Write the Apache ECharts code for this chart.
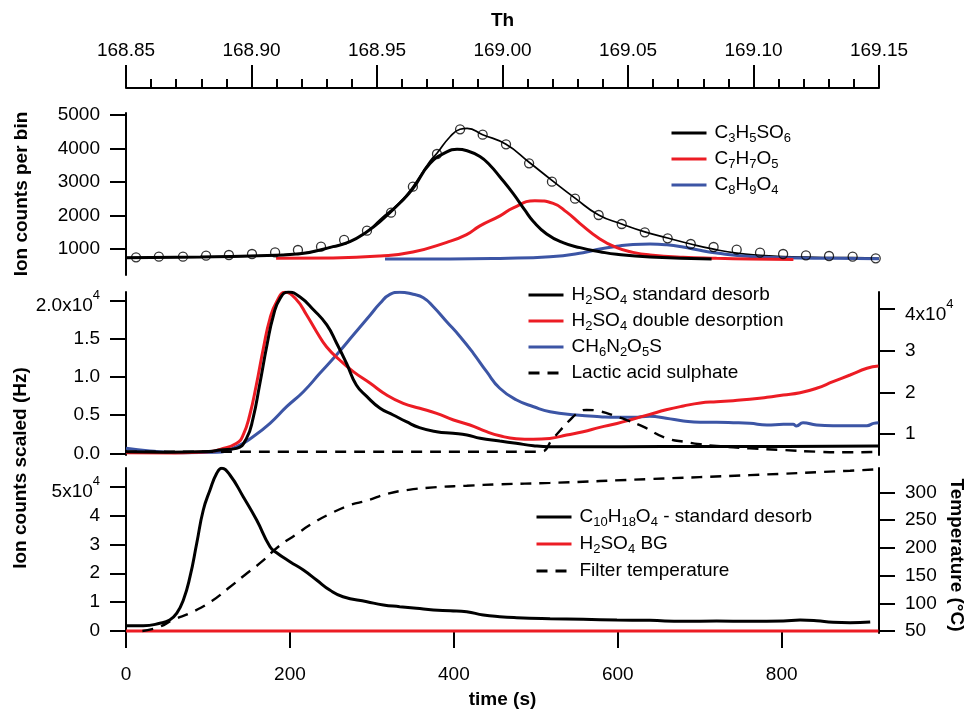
<!DOCTYPE html>
<html>
<head>
<meta charset="utf-8">
<script src="https://cdn.jsdelivr.net/npm/echarts@6/dist/echarts.min.js"></script>
<style>html,body{margin:0;padding:0;background:#fff}#c{width:966px;height:710px}</style>
</head>
<body>
<div id="c"></div>
<script>
const FONT = '"Liberation Sans", Arial, Helvetica, sans-serif';
const RED = '#ec1c24';
const BLUE = '#3c55a5';

// ---------- top panel (mass spectrum, Th) ----------
const fitTh = [168.8500, 168.8795, 168.8994, 168.9193, 168.9325, 168.9392, 168.9460, 168.9512, 168.9592, 168.9643, 168.9711, 168.9739, 168.9791, 168.9831, 168.9859, 168.9921, 169.0014, 169.0106, 169.0197, 169.0289, 169.0383, 169.0475, 169.0567, 169.0658, 169.0750, 169.0841, 169.0933, 169.1026, 169.1118, 169.1209, 169.1301, 169.1395, 169.1500];
const fitCounts = [740, 760, 790, 860, 1070, 1218, 1516, 1880, 2400, 2860, 3620, 3856, 4352, 4575, 4600, 4413, 4125, 3590, 3050, 2520, 2015, 1746, 1510, 1330, 1149, 995, 875, 811, 775, 755, 745, 740, 722];

const obsTh = [168.8540, 168.8631, 168.8727, 168.8819, 168.8910, 168.9002, 168.9094, 168.9185, 168.9277, 168.9369, 168.9460, 168.9556, 168.9643, 168.9739, 168.9831, 168.9921, 169.0014, 169.0106, 169.0197, 169.0289, 169.0383, 169.0475, 169.0567, 169.0658, 169.0750, 169.0841, 169.0933, 169.1026, 169.1118, 169.1209, 169.1301, 169.1395, 169.1487];
const obsCounts = [752, 770, 770, 800, 821, 851, 900, 970, 1070, 1270, 1547, 2085, 2860, 3836, 4573, 4413, 4125, 3557, 3010, 2502, 2015, 1746, 1498, 1318, 1149, 1060, 980, 890, 851, 811, 791, 770, 722];

const c3h5so6Th = [168.8500, 168.8795, 168.8994, 168.9193, 168.9325, 168.9392, 168.9460, 168.9512, 168.9592, 168.9643, 168.9711, 168.9778, 168.9819, 168.9859, 168.9910, 168.9950, 168.9990, 169.0042, 169.0090, 169.0122, 169.0176, 169.0241, 169.0309, 169.0388, 169.0455, 169.0588, 169.0833];
const c3h5so6Counts = [740, 760, 790, 860, 1070, 1218, 1516, 1815, 2380, 2800, 3550, 3900, 3976, 3934, 3760, 3500, 3150, 2660, 2150, 1830, 1450, 1190, 1040, 920, 840, 760, 705];

const c7h7o5Th = [168.9098, 168.9325, 168.9512, 168.9643, 168.9778, 168.9857, 168.9910, 168.9990, 169.0043, 169.0129, 169.0202, 169.0256, 169.0309, 169.0388, 169.0455, 169.0520, 169.0588, 169.0719, 169.0853, 169.0986, 169.1159];
const c7h7o5Counts = [722, 730, 790, 910, 1200, 1430, 1690, 1990, 2230, 2442, 2360, 2100, 1760, 1300, 1040, 900, 821, 752, 722, 701, 685];

const c8h9o4Th = [168.9532, 168.9791, 168.9990, 169.0189, 169.0321, 169.0388, 169.0455, 169.0520, 169.0588, 169.0655, 169.0719, 169.0787, 169.0853, 169.0986, 169.1118, 169.1317, 169.1500];
const c8h9o4Counts = [700, 700, 720, 770, 890, 1000, 1080, 1135, 1149, 1125, 1060, 960, 880, 775, 740, 722, 710];

// ---------- middle panel (time, s) ----------
const h2so4StdTime = [0, 50, 101, 115, 135, 147, 155, 163, 172, 180, 188, 198, 212, 229, 245, 257, 269, 281, 294, 310, 326, 342, 358, 379, 399, 416, 432, 456, 476, 497, 517, 604, 705, 805, 918];
const h2so4StdHz = [200, 150, 250, 430, 650, 1960, 4590, 8950, 14190, 18120, 20310, 21130, 20520, 18780, 16820, 14420, 11800, 8950, 7420, 5900, 5020, 4140, 3360, 2830, 2620, 2400, 1960, 1600, 1310, 1000, 870, 870, 880, 880, 950];

const h2so4DblTime = [0, 60, 101, 115, 135, 143, 151, 159, 167.6, 175.7, 183.8, 194, 208.3, 220.4, 232.5, 244.6, 260.7, 277.3, 298, 318, 338.2, 358.3, 379, 399.6, 419.7, 440, 456, 476, 497, 517, 537.5, 557.7, 578, 599, 619, 639, 659, 680, 700.6, 720.7, 740.8, 761, 782, 802, 822.4, 842.5, 862.6, 883.4, 904, 918];
const h2so4DblHz = [80, 50, 200, 520, 1310, 2400, 5020, 8950, 13760, 17690, 19870, 21100, 20090, 18120, 15940, 13970, 12230, 10700, 9170, 7640, 6550, 5900, 5240, 4360, 3710, 2830, 2300, 1920, 1850, 1950, 2400, 2830, 3400, 3900, 4500, 5100, 5700, 6200, 6600, 6760, 6900, 7080, 7340, 7640, 7940, 8520, 9380, 10260, 11140, 11440];

const ch6n2o5sTime = [0, 29, 69.5, 110.7, 135, 155, 175.7, 196, 216.4, 236.5, 256.7, 277.3, 298, 310, 322, 334, 350.3, 362.8, 375, 391.3, 407.7, 423.8, 440, 456, 476.6, 497.3, 517.4, 549.6, 578.3, 599, 619, 639, 659, 680, 700.6, 720.7, 740.8, 761, 782, 802, 814, 818, 826, 842.5, 862.6, 884, 904, 912, 918];
const ch6n2o5sHz = [6560, 5910, 5500, 5600, 6950, 9350, 12570, 16560, 20170, 24590, 28990, 33800, 38610, 41420, 43580, 44100, 43580, 42770, 40600, 37000, 33390, 29400, 24980, 20990, 18170, 16560, 15360, 14570, 14160, 14000, 14000, 14250, 13800, 13130, 12800, 12800, 12720, 12560, 12160, 12320, 12320, 11920, 12720, 12160, 12000, 12000, 12000, 12560, 12720];

const lacticTime = [0, 250, 505, 521, 541.5, 553.6, 561.7, 578.3, 599, 611, 631, 659, 684.5, 700.6, 720.7, 761, 802, 842.5, 883.4, 918];
const lacticHz = [210, 210, 210, 1960, 4360, 5450, 5680, 5500, 4800, 4360, 3490, 2000, 1450, 1180, 960, 650, 430, 210, 130, 200];

// ---------- bottom panel (time, s) ----------
const c10h18o4Time = [0, 21, 41.3, 53.3, 61.8, 70, 78.1, 86.3, 94.3, 102.5, 110.7, 116.8, 126.8, 143, 159.4, 175.7, 183.8, 200, 216.4, 232.5, 248.6, 264.7, 294, 314, 334, 354.3, 375, 395.6, 415.7, 435.9, 456, 476.6, 517.4, 557.7, 599, 639, 680, 720.7, 761, 802, 822.4, 842.5, 862.6, 883.4, 908];
const c10h18o4Hz = [1840, 1840, 2660, 3810, 6130, 10740, 18810, 30380, 41910, 48840, 54620, 56360, 54030, 46520, 38450, 29200, 27120, 24000, 21130, 17670, 14200, 11880, 10150, 9000, 8430, 7860, 7270, 7040, 6690, 5540, 4950, 4620, 4270, 4040, 3810, 3690, 3350, 3460, 3350, 3460, 3810, 3580, 3010, 2900, 3120];

const bgTime = [0, 300, 600, 918];
const bgHz = [0, 0, 0, 0];

const tempTime = [20, 40, 57.4, 80.5, 104.7, 124.8, 145, 165.6, 185.8, 206.4, 226.5, 248.6, 273.3, 294, 318, 342.2, 375, 415.7, 456, 517.4, 639, 761, 883.4, 916];
const tempC = [50, 57, 70, 84, 104, 127, 151, 175, 202, 223, 243, 261, 277, 285, 297, 304, 309, 312, 314.5, 317, 324, 331, 339, 341.5];

// ---------- tick values ----------
const timeTicks = [0, 200, 400, 600, 800];
const countTicks = [1000, 2000, 3000, 4000, 5000];
const hzTicksMid = [0, 5000, 10000, 15000, 20000];
const hzTicksMidRight = [10000, 20000, 30000, 40000];
const hzTicksBot = [0, 10000, 20000, 30000, 40000, 50000];
const tempTicks = [50, 100, 150, 200, 250, 300];

const legendTop = ['C3H5SO6', 'C7H7O5', 'C8H9O4'];
const legendMid = ['H2SO4 standard desorb', 'H2SO4 double desorption', 'CH6N2O5S', 'Lactic acid sulphate'];
const legendBot = ['C10H18O4 - standard desorb', 'H2SO4 BG', 'Filter temperature'];

function zip(a, b) { return a.map((x, i) => [x, b[i]]); }
function chem(name) { return name.replace(/([A-Za-z])(\d+)/g, '$1{s|$2}'); }

const supRich = {
  m: { fontSize: 19, fontFamily: FONT, color: '#000', padding: [11, 0, 0, 0] },
  p: { fontSize: 13, fontFamily: FONT, color: '#000', padding: [0, 0, 10, 0] }
};

function yAxis(opt) {
  return Object.assign({
    type: 'value',
    splitLine: { show: false },
    axisLine: { show: true, lineStyle: { color: '#000', width: 2 } },
    axisTick: { show: true, length: 16, customValues: opt.ticks, lineStyle: { color: '#000', width: 2 } },
    axisLabel: { customValues: opt.ticks, color: '#000', fontSize: 19, fontFamily: FONT, margin: 26, formatter: opt.fmt, rich: supRich },
    nameTextStyle: { color: '#000', fontSize: 19, fontWeight: 'bold', fontFamily: FONT }
  }, opt.extra);
}

function legend(names, left, top, gap) {
  return {
    data: names, orient: 'vertical', left: left, top: top, padding: 0,
    itemWidth: 35, itemHeight: 14, itemGap: gap, selectedMode: false,
    itemStyle: { opacity: 0 },
    lineStyle: { width: 3 },
    formatter: chem,
    textStyle: {
      color: '#000', fontSize: 19, fontFamily: FONT, lineHeight: 22, padding: [0, 0, 0, 3],
      rich: { s: { fontSize: 13, fontFamily: FONT, color: '#000', verticalAlign: 'top', height: 11, padding: [11, 0, 0, 0] } }
    }
  };
}

function line(name, xi, yi, xs, ys, color, width, dash) {
  return {
    type: 'line', name: name, xAxisIndex: xi, yAxisIndex: yi,
    data: zip(xs, ys), symbol: 'none', smooth: 0.5,
    color: color,
    lineStyle: { color: color, width: width, type: dash || 'solid' },
    itemStyle: { color: color }
  };
}

const option = {
  animation: false,
  backgroundColor: '#fff',
  grid: [
    { left: 126, right: 87, top: 113, height: 162 },
    { left: 126, right: 87, top: 292, height: 163 },
    { left: 126, right: 87, top: 468, height: 165 }
  ],
  xAxis: [
    {
      gridIndex: 0, type: 'value', position: 'top', offset: 25,
      min: 168.85, max: 169.15, interval: 0.05,
      name: 'Th', nameLocation: 'middle', nameGap: 58,
      nameTextStyle: { color: '#000', fontSize: 19, fontWeight: 'bold', fontFamily: FONT },
      splitLine: { show: false },
      axisLine: { show: true, lineStyle: { color: '#000', width: 2 } },
      axisTick: { show: true, length: 23, lineStyle: { color: '#000', width: 2 } },
      minorTick: { show: true, splitNumber: 5, length: 9, lineStyle: { color: '#000', width: 2 } },
      axisLabel: { color: '#000', fontSize: 19, fontFamily: FONT, margin: 28, formatter: v => v.toFixed(2) }
    },
    { gridIndex: 1, type: 'value', min: 0, max: 918.7, interval: 200, show: false },
    {
      gridIndex: 2, type: 'value', min: 0, max: 918.7, interval: 200, offset: 5,
      name: 'time (s)', nameLocation: 'middle', nameGap: 52,
      nameTextStyle: { color: '#000', fontSize: 19, fontWeight: 'bold', fontFamily: FONT },
      splitLine: { show: false },
      axisLine: { show: true, lineStyle: { color: '#000', width: 2 } },
      axisTick: { show: true, length: 17, customValues: timeTicks, lineStyle: { color: '#000', width: 2 } },
      axisLabel: { customValues: timeTicks, color: '#000', fontSize: 19, fontFamily: FONT, margin: 27 }
    }
  ],
  yAxis: [
    yAxis({ ticks: countTicks, fmt: v => String(v), extra: { gridIndex: 0, min: 224, max: 5060, name: 'Ion counts per bin', nameLocation: 'middle', nameRotate: 90, nameGap: 95 } }),
    yAxis({ ticks: hzTicksMid, fmt: v => v === 20000 ? '{m|2.0x10}{p|4}' : (v / 10000).toFixed(1), extra: { gridIndex: 1, min: -223, max: 21140 } }),
    yAxis({ ticks: hzTicksMidRight, fmt: v => v === 40000 ? '{m|4x10}{p|4}' : String(v / 10000), extra: { gridIndex: 1, position: 'right', min: 4952, max: 44135 } }),
    yAxis({ ticks: hzTicksBot, fmt: v => v === 50000 ? '{m|5x10}{p|4}' : String(v / 10000), extra: { gridIndex: 2, min: -690, max: 56460 } }),
    yAxis({ ticks: tempTicks, fmt: v => String(v), extra: { gridIndex: 2, position: 'right', min: 46.4, max: 343.9 } })
  ],
  legend: [
    legend(legendTop, 670, 122, 3),
    legend(legendMid, 527, 284, 3),
    legend(legendBot, 535, 506, 4)
  ],
  graphic: [
    {
      type: 'text', x: 21, y: 468, rotation: Math.PI / 2,
      style: { text: 'Ion counts scaled (Hz)', font: 'bold 19px ' + FONT, fill: '#000', align: 'center', verticalAlign: 'middle' }
    },
    {
      type: 'text', x: 956, y: 555, rotation: -Math.PI / 2,
      style: { text: 'Temperature (°C)', font: 'bold 19px ' + FONT, fill: '#000', align: 'center', verticalAlign: 'middle' }
    }
  ],
  series: [
    // top
    { type: 'line', name: 'fit', xAxisIndex: 0, yAxisIndex: 0, data: zip(fitTh, fitCounts), symbol: 'none', smooth: 0.5, lineStyle: { color: '#000', width: 1.7 }, itemStyle: { color: '#000' }, z: 3 },
    line('C8H9O4', 0, 0, c8h9o4Th, c8h9o4Counts, BLUE, 3),
    line('C7H7O5', 0, 0, c7h7o5Th, c7h7o5Counts, RED, 3),
    line('C3H5SO6', 0, 0, c3h5so6Th, c3h5so6Counts, '#000', 3),
    { type: 'scatter', name: 'observed', xAxisIndex: 0, yAxisIndex: 0, data: zip(obsTh, obsCounts), symbol: 'circle', symbolSize: 9, itemStyle: { color: 'rgba(255,255,255,0)', borderColor: '#000', borderWidth: 1.3 }, z: 4 },
    // middle
    line('CH6N2O5S', 1, 2, ch6n2o5sTime, ch6n2o5sHz, BLUE, 3),
    line('H2SO4 double desorption', 1, 1, h2so4DblTime, h2so4DblHz, RED, 3),
    line('H2SO4 standard desorb', 1, 1, h2so4StdTime, h2so4StdHz, '#000', 3),
    line('Lactic acid sulphate', 1, 1, lacticTime, lacticHz, '#000', 2.4, [11, 8]),
    // bottom
    line('H2SO4 BG', 2, 3, bgTime, bgHz, RED, 3),
    line('Filter temperature', 2, 4, tempTime, tempC, '#000', 2.4, [11, 8]),
    line('C10H18O4 - standard desorb', 2, 3, c10h18o4Time, c10h18o4Hz, '#000', 3)
  ]
};

const chart = echarts.init(document.getElementById('c'), null, { renderer: 'canvas' });
chart.setOption(option);
</script>
</body>
</html>
